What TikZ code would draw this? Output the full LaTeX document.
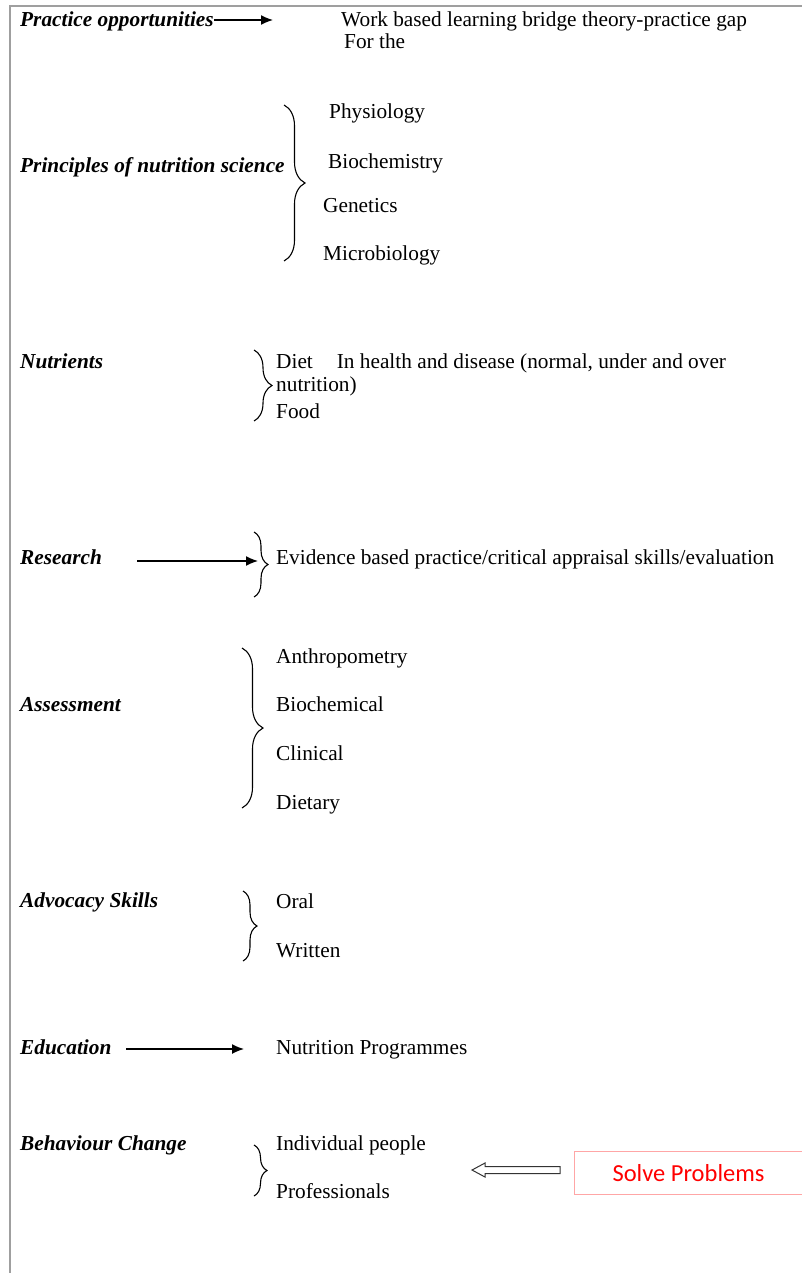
\documentclass[tikz,border=0pt]{standalone}
\usepackage{fontspec}
\setmainfont{Liberation Serif}
\newfontfamily\calibri{Carlito}
\usetikzlibrary{arrows.meta,decorations.pathreplacing}
\tikzset{
  txt/.style={anchor=base west, inner sep=0pt, font=\fontsize{21.3}{25}\selectfont},
  lbl/.style={anchor=base west, inner sep=0pt, font=\fontsize{21.3}{25}\selectfont\bfseries\itshape},
  arr/.style={-{Latex[length=12pt,width=10pt]}, line width=1.4pt},
  frameline/.style={draw=gray!75, line width=1.8pt},
  brc/.style={decorate, line width=1.1pt, decoration={brace, amplitude=#1}},
  hollow/.style={draw=black!80, line width=1pt, fill=white},
  boxline/.style={draw=red!35, line width=1.2pt}
}
\begin{document}
\begin{tikzpicture}[x=1pt,y=-1pt]
\useasboundingbox (0,0) rectangle (802,1273);
% frame
\draw[frameline] (10,1273) -- (10,6) -- (802,6);

% Practice opportunities
\node[lbl] (po) at (20,27) {Practice opportunities};
\coordinate (a1e) at (273,20);
\draw[arr] ([yshift=7pt]po.base east) -- (a1e);
\node[txt] (wb) at (341,27) {Work based learning bridge theory-practice gap};
\node[txt] (ft) at (344,49) {For the};

% Principles
\node[lbl] (pn) at (20,173) {Principles of nutrition science};
\coordinate (b1t) at (284,105);
\coordinate (b1b) at (284,261);
\draw[brc=21pt] (b1t) -- (b1b);
\node[txt] (phy) at (329,119) {Physiology};
\node[txt] (bio) at (328,169) {Biochemistry};
\node[txt] (gen) at (323,213) {Genetics};
\node[txt] (mic) at (323,260) {Microbiology};

% Nutrients
\node[lbl] (nu) at (20,368) {Nutrients};
\coordinate (b2t) at (254,350);
\coordinate (b2b) at (254,421);
\draw[brc=18pt] (b2t) -- (b2b);
\node[txt] (diet) at (276,368) {Diet\hspace{24pt}In health and disease (normal, under and over};
\node[txt] (nut) at (276,391) {nutrition)};
\node[txt] (food) at (276,418) {Food};

% Research
\node[lbl] (re) at (20,564) {Research};
\coordinate (a2s) at (137,561);
\coordinate (a2e) at (258,561);
\draw[arr] (a2s) -- (a2e);
\coordinate (b3t) at (254,532);
\coordinate (b3b) at (254,597);
\draw[brc=14pt] (b3t) -- (b3b);
\node[txt] (ev) at (276,564) {Evidence based practice/critical appraisal skills/evaluation};

% Assessment
\node[lbl] (as) at (20,711) {Assessment};
\coordinate (b4t) at (242,648);
\coordinate (b4b) at (242,808);
\draw[brc=21pt] (b4t) -- (b4b);
\node[txt] (an) at (276,663) {Anthropometry};
\node[txt] (bc) at (276,711) {Biochemical};
\node[txt] (cl) at (276,760) {Clinical};
\node[txt] (di) at (276,809) {Dietary};

% Advocacy
\node[lbl] (ad) at (20,907) {Advocacy Skills};
\coordinate (b5t) at (243,891);
\coordinate (b5b) at (243,961);
\draw[brc=14pt] (b5t) -- (b5b);
\node[txt] (or) at (276,908) {Oral};
\node[txt] (wr) at (276,957) {Written};

% Education
\node[lbl] (ed) at (20,1054) {Education};
\coordinate (a3s) at (126,1049);
\coordinate (a3e) at (244,1049);
\draw[arr] (a3s) -- (a3e);
\node[txt] (np) at (276,1054) {Nutrition Programmes};

% Behaviour change
\node[lbl] (bh) at (20,1150) {Behaviour Change};
\coordinate (b6t) at (254,1145);
\coordinate (b6b) at (254,1196);
\draw[brc=13pt] (b6t) -- (b6b);
\node[txt] (ip) at (276,1150) {Individual people};
\node[txt] (pr) at (276,1198) {Professionals};

% Solve problems box
\node[inner sep=0pt, minimum width=227pt, minimum height=42pt, text=red,
      font=\calibri\fontsize{24.5}{28}\selectfont] (sp) at (688.5,1173) {Solve Problems};
\draw[boxline] (sp.north east) -- (sp.north west) -- (sp.south west) -- (sp.south east);

% hollow arrow
\coordinate (tip) at (472,1170);
\draw[hollow] (tip) -- ++(13,-7) -- ++(0,3.5) -- (560,1166.5) -- (560,1173.5) -- (485,1173.5) -- (485,1177) -- cycle;
\end{tikzpicture}
\end{document}
